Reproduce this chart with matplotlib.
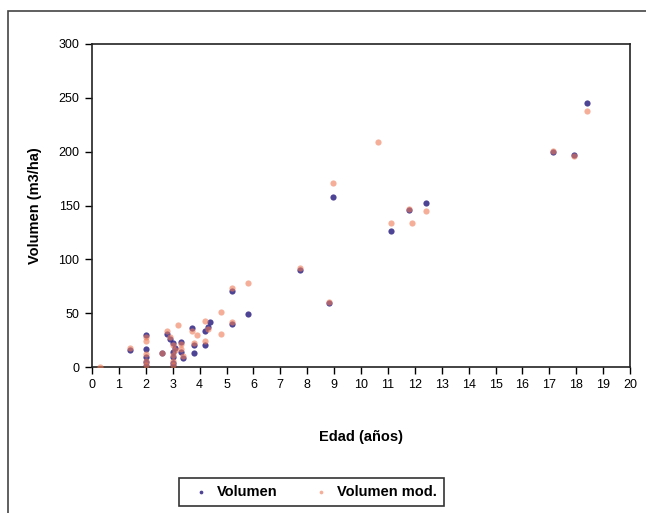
import matplotlib.pyplot as plt
from matplotlib.patches import Rectangle

# ---------------------------------------------------------------------------
# Data
# ---------------------------------------------------------------------------
edad_vol = [1.4, 2.0, 2.0, 2.0, 2.0, 2.0, 2.6, 2.8, 2.9, 3.0, 3.0, 3.0, 3.0,
            3.0, 3.1, 3.3, 3.3, 3.4, 3.7, 3.8, 3.8, 4.2, 4.2, 4.3, 4.4, 5.2,
            5.2, 5.8, 7.75, 8.8, 8.95, 11.1, 11.8, 12.4, 17.15, 17.9, 18.4]
volumen = [16, 30, 17, 9, 5, 1, 13, 31, 26, 22, 14, 9, 4,
           1, 18, 23, 14, 8, 36, 20, 13, 33, 20, 37, 42, 71,
           40, 49, 90, 59, 158, 126, 146, 152, 200, 197, 245]

edad_mod = [0.3, 1.4, 2.0, 2.0, 2.0, 2.0, 2.0, 2.6, 2.8, 2.9, 3.0, 3.0, 3.0,
            3.0, 3.1, 3.2, 3.3, 3.3, 3.4, 3.7, 3.9, 3.8, 4.2, 4.2, 4.3, 4.8,
            4.8, 5.2, 5.2, 5.8, 7.75, 8.8, 8.95, 10.65, 11.1, 11.9, 11.8,
            12.4, 17.15, 17.9, 18.4]
volumen_mod = [0, 18, 28, 24, 12, 6, 2, 13, 33, 28, 20, 11, 6,
               2, 16, 39, 21, 17, 10, 33, 30, 22, 43, 24, 35, 51,
               31, 73, 42, 78, 92, 60, 171, 209, 134, 134, 147,
               145, 201, 196, 238]

x_ticks = list(range(0, 21))
y_ticks = [0, 50, 100, 150, 200, 250, 300]

plt.rcParams["font.family"] = ["Liberation Sans", "DejaVu Sans"]

fig = plt.figure(figsize=(6.46, 5.13), dpi=100)
ax = fig.add_axes([92 / 646, (513 - 367) / 513, (630 - 92) / 646, (367 - 44) / 513])

ax.scatter(edad_vol, volumen, marker="o", s=20, color="#3a2f8a",
           linewidths=0, alpha=0.9, label="Volumen", zorder=2)
ax.scatter(edad_mod, volumen_mod, marker="o", s=20, color="#ef7a55",
           linewidths=0, alpha=0.6, label="Volumen mod.", zorder=3)

ax.set_xlim(0, 20)
ax.set_ylim(0, 300)
ax.set_xticks(x_ticks)
ax.set_yticks(y_ticks)
ax.tick_params(direction="out", length=5, width=1, labelsize=9, pad=4)
for s in ax.spines.values():
    s.set_color("#222222")
    s.set_linewidth(1.2)

ax.set_xlabel("Edad (años)", fontsize=10.5, fontweight="bold", labelpad=28)
ax.set_ylabel("Volumen (m3/ha)", fontsize=10.5, fontweight="bold", labelpad=12)

handles, labels = ax.get_legend_handles_labels()
leg = fig.legend(handles, labels, loc="center",
                 bbox_to_anchor=(311.5 / 646, (513 - 492) / 513), ncol=2,
                 frameon=True, fancybox=False, edgecolor="black",
                 prop={"weight": "bold", "size": 10.5}, handletextpad=0.1,
                 columnspacing=2.0, markerscale=0.6, borderpad=0.5)
leg.get_frame().set_linewidth(1.2)

# outer chart-area frame (runs off the right and bottom edges)
fig.add_artist(Rectangle((8 / 646, -0.05), 1.0, (513 - 11) / 513 + 0.05,
                         transform=fig.transFigure, fill=False,
                         edgecolor="#444444", linewidth=1.2))

fig.savefig("out.png", dpi=100)
